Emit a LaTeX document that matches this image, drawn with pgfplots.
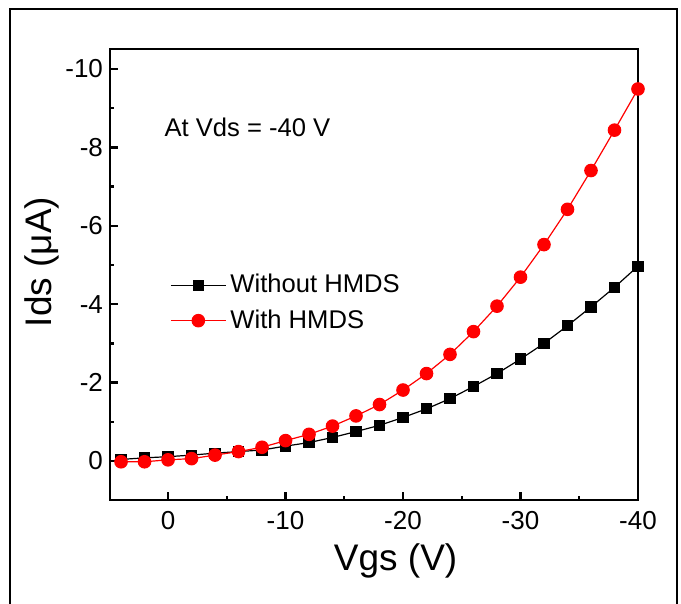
\documentclass[border=0pt]{standalone}
\usepackage{fontspec}
\setmainfont{Liberation Sans}
\usepackage{pgfplots}
\pgfplotsset{compat=1.18}
\begin{document}
\begin{tikzpicture}
\path[use as bounding box] (0,0) rectangle (340.5pt,302pt);
\draw[line width=1pt] (5pt,-2pt) -- (5pt,297.5pt) -- (338.5pt,297.5pt) -- (338.5pt,-2pt);
\begin{axis}[
  at={(55pt,52pt)}, anchor=south west,
  scale only axis, width=264pt, height=225.5pt,
  x dir=reverse, y dir=reverse,
  xmin=-40, xmax=4.94, ymin=-10.51, ymax=0.995,
  axis line style={line width=1.35pt},
  xtick={0,-10,-20,-30,-40}, xticklabels={0,-10,-20,-30,-40},
  ytick={0,-2,-4,-6,-8,-10}, yticklabels={0,-2,-4,-6,-8,-10},
  minor x tick num=1, minor y tick num=1,
  tick align=inside, tick pos=left,
  major tick length=4pt, minor tick length=2pt,
  tick style={line width=1.2pt, black},
  ticklabel style={font=\fontsize{13}{15}\selectfont},
  xticklabel style={yshift=-2pt},
  xlabel={Vgs (V)}, ylabel={Ids (μA)},
  label style={font=\fontsize{18.5}{22}\selectfont},
  xlabel style={at={(ticklabel cs:0.541)}, anchor=near ticklabel},
  ylabel style={at={(ticklabel cs:0.528,-4pt)}, anchor=near ticklabel},
  legend style={at={(rel axis cs:0.102,0.519)}, anchor=north west, draw=none, fill=none,
    font=\fontsize{12.8}{15}\selectfont, row sep=3pt, cells={anchor=west}},
  legend image code/.code={\draw[mark repeat=2,mark phase=2] plot coordinates {(0pt,0pt) (13.75pt,0pt) (27.5pt,0pt)};},
]
\addplot[black, line width=0.6pt, mark=square*, mark size=2.5pt] coordinates {
(4,-0.04) (2,-0.08) (0,-0.11) (-2,-0.15) (-4,-0.20) (-6,-0.24) (-8,-0.28) (-10,-0.38)
(-12,-0.47) (-14,-0.60) (-16,-0.75) (-18,-0.91) (-20,-1.11) (-22,-1.33) (-24,-1.59)
(-26,-1.90) (-28,-2.23) (-30,-2.60) (-32,-3.00) (-34,-3.45) (-36,-3.93) (-38,-4.43) (-40,-4.97)
};
\addplot[red, line width=0.6pt, mark=*, mark size=3.1pt] coordinates {
(4,0.02) (2,0.02) (0,-0.03) (-2,-0.06) (-4,-0.15) (-6,-0.24) (-8,-0.35) (-10,-0.52)
(-12,-0.68) (-14,-0.89) (-16,-1.15) (-18,-1.44) (-20,-1.81) (-22,-2.23) (-24,-2.72)
(-26,-3.30) (-28,-3.95) (-30,-4.69) (-32,-5.52) (-34,-6.42) (-36,-7.41) (-38,-8.44) (-40,-9.49)
};
\legend{Without HMDS, With HMDS}
\node[anchor=west, inner sep=0pt, font=\fontsize{12.8}{16}\selectfont] at (rel axis cs:0.1025,0.827) {At Vds = -40 V};
\end{axis}
\end{tikzpicture}
\end{document}
